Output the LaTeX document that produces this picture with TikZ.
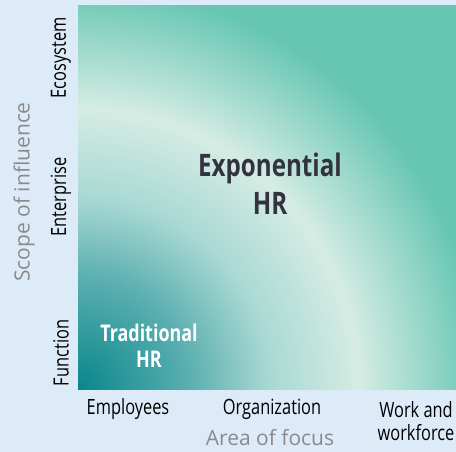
\documentclass[tikz,border=0pt]{standalone}
\usepackage{fontspec}
\setmainfont{Open Sans}
\newfontfamily\condfont[FakeStretch=0.78]{Open Sans}
\usepackage{xcolor}
\usepackage{tikz}
\usetikzlibrary{positioning}

\definecolor{pagebg}{HTML}{DDEBF8}
\definecolor{hrdark}{HTML}{08878A}
\definecolor{hrmid}{HTML}{5AAEB0}
\definecolor{hrpale}{HTML}{A9D9D3}
\definecolor{hrwhite}{HTML}{D5ECE4}
\definecolor{hrteal}{HTML}{66C6B2}
\definecolor{inkdark}{HTML}{33333F}
\definecolor{inkgrey}{HTML}{8A8A8A}

% radial glow out of the lower left corner
\pgfdeclareradialshading{hrglow}{\pgfpoint{0bp}{0bp}}{%
  color(0bp)=(hrdark); color(4.6bp)=(hrmid); color(8bp)=(hrpale);
  color(11.7bp)=(hrwhite); color(16.8bp)=(hrteal); color(50bp)=(hrteal)}

\begin{document}
\begin{tikzpicture}[x=1pt,y=-1pt,
    every node/.style={inner sep=0pt,align=center},
    tick/.style={font=\condfont\fontsize{21}{23}\selectfont,text=black},
    axislabel/.style={font=\fontsize{21}{24}\selectfont,text=inkgrey},
    bigtag/.style={font=\condfont\bfseries\fontsize{31}{38}\selectfont,text=inkdark},
    smalltag/.style={font=\condfont\bfseries\fontsize{23}{26}\selectfont,text=white}]
  % page
  \fill[pagebg] (0,0) rectangle (456,452);
  \useasboundingbox (0,0) rectangle (456,452);
  % gradient square
  \begin{scope}
    \clip (78,6) rectangle (456,389);
    \shade[shading=hrglow] (-522,-211) rectangle (678,989);
  \end{scope}
  % quadrant tags
  \node[bigtag] (expo) at (270,184) {Exponential\\HR};
  \node[smalltag] (trad) at (149,346) {Traditional\\HR};
  % scope of influence ticks
  \foreach \name/\y in {Ecosystem/58,Enterprise/197,Function/353}
    \node[tick,rotate=90] (y-\name) at (61,\y) {\name};
  % area of focus ticks
  \node[tick] (x-emp) at (128,409) {Employees};
  \node[tick] (x-org) at (272,409) {Organization};
  \node[tick] (x-work) at (416,421) {Work and\\workforce};
  % axis titles
  \node[axislabel,rotate=90] (ytitle) at (24,192) {Scope of influence};
  \node[axislabel] (xtitle) at (270,438) {Area of focus};
\end{tikzpicture}
\end{document}
